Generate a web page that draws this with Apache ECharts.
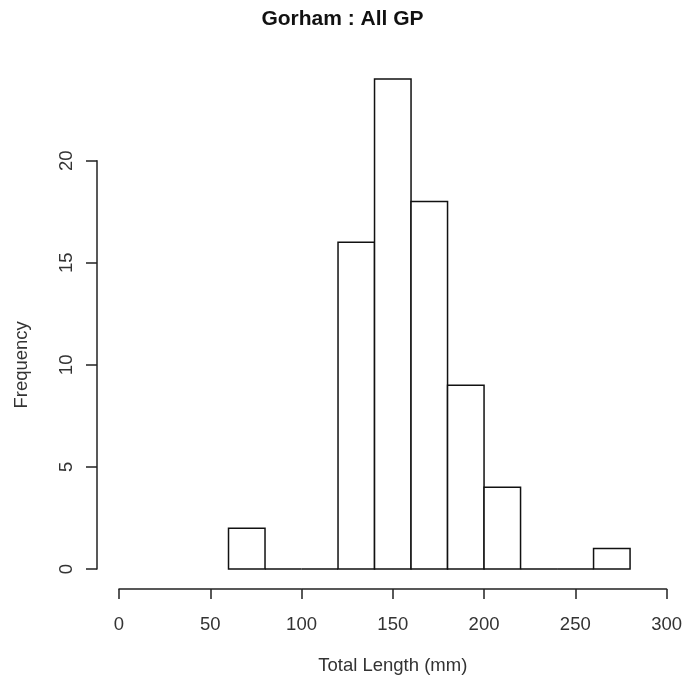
<!DOCTYPE html>
<html>
<head>
<meta charset="utf-8">
<script src="https://cdn.jsdelivr.net/npm/echarts@6/dist/echarts.min.js"></script>
<style>
  html, body { margin: 0; padding: 0; background: #fff; }
  #chart { width: 685px; height: 681px; }
</style>
</head>
<body>
<div id="chart"></div>
<script>
// Histogram of total length (mm), bins of width 20
const breaks = [60, 80, 100, 120, 140, 160, 180, 200, 220, 240, 260, 280];
const counts = [2, 0, 0, 16, 24, 18, 9, 4, 0, 0, 1];
const xTicks = [0, 50, 100, 150, 200, 250, 300];
const yTicks = [0, 5, 10, 15, 20];

const bins = counts.map((c, i) => [breaks[i], breaks[i + 1], c]);

const FONT = '"Liberation Sans", Arial, sans-serif';
const INK = '#222';

const chart = echarts.init(document.getElementById('chart'), null, { renderer: 'canvas' });
chart.setOption({
  backgroundColor: '#fff',
  animation: false,
  title: {
    text: 'Gorham : All GP',
    left: 'center',
    top: 4,
    textStyle: { fontFamily: FONT, fontWeight: 'bold', fontSize: 21, color: '#111' }
  },
  grid: { left: 119, right: 16, top: 160.7, bottom: 112 },
  xAxis: {
    type: 'value',
    min: xTicks[0],
    max: xTicks[xTicks.length - 1],
    interval: 50,
    offset: 20,
    splitLine: { show: false },
    axisLine: { show: true, onZero: false, lineStyle: { color: INK, width: 1.5 } },
    axisTick: { show: true, inside: false, length: 10, lineStyle: { color: INK, width: 1.5 } },
    axisLabel: { fontFamily: FONT, fontSize: 18.5, color: '#333', margin: 26 },
    name: 'Total Length (mm)',
    nameLocation: 'middle',
    nameGap: 67,
    nameMoveOverlap: false,
    nameTextStyle: { fontFamily: FONT, fontSize: 18.5, color: '#333' }
  },
  yAxis: {
    type: 'value',
    min: yTicks[0],
    max: yTicks[yTicks.length - 1],
    interval: 5,
    offset: 22,
    splitLine: { show: false },
    axisLine: { show: true, onZero: false, lineStyle: { color: INK, width: 1.5 } },
    axisTick: { show: true, inside: false, length: 11, lineStyle: { color: INK, width: 1.5 } },
    axisLabel: { fontFamily: FONT, fontSize: 18.5, color: '#333', rotate: 90, margin: 21 },
    name: 'Frequency',
    nameLocation: 'middle',
    nameGap: 66,
    nameMoveOverlap: false,
    nameTextStyle: { fontFamily: FONT, fontSize: 18.5, color: '#333' }
  },
  series: [{
    type: 'custom',
    clip: false,
    data: bins,
    encode: { x: [0, 1], y: 2 },
    renderItem: function (params, api) {
      const p0 = api.coord([api.value(0), api.value(2)]);
      const p1 = api.coord([api.value(1), 0]);
      return {
        type: 'rect',
        shape: { x: p0[0], y: p0[1], width: p1[0] - p0[0], height: p1[1] - p0[1] },
        style: { fill: '#fff', stroke: '#111', lineWidth: 1.5 }
      };
    }
  }]
});
</script>
</body>
</html>
